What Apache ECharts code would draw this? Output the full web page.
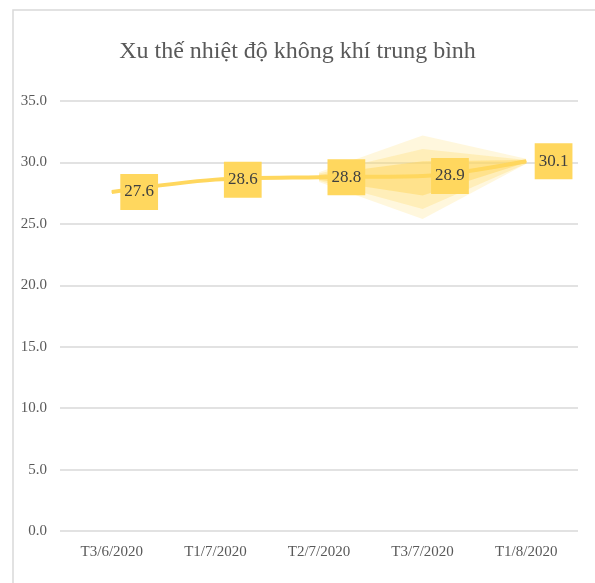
<html>
<head>
<meta charset="utf-8">
<script src="https://cdn.jsdelivr.net/npm/echarts@6/dist/echarts.min.js"></script>
<style>
  html, body { margin: 0; padding: 0; background: #fff; }
  #container { width: 595px; height: 583px; }
</style>
</head>
<body>
<div id="container"></div>
<script type="text/javascript">
var categories = ['T3/6/2020', 'T1/7/2020', 'T2/7/2020', 'T3/7/2020', 'T1/8/2020'];
var temps = [27.6, 28.6, 28.8, 28.9, 30.1];
// forecast band layers (lower bound and height), outer to inner
var bandLow = [
    [null, null, 28.4, 25.4, 29.9],
    [null, null, 28.5, 26.2, 29.9],
    [null, null, 28.6, 27.3, 30.0]
];
var bandHeight = [
    [null, null, 0.8, 6.8, 0.4],
    [null, null, 0.6, 4.9, 0.3],
    [null, null, 0.4, 2.8, 0.2]
];
var bandOpacity = [0.3, 0.4, 0.7];
var yTicks = { min: 0, max: 35, interval: 5 };

var dom = document.getElementById('container');
var myChart = echarts.init(dom, null, { renderer: 'canvas' });
var serif = '"Liberation Serif", "DejaVu Serif", serif';
var gold = '#FFD75E';

var series = [];
for (var i = 0; i < bandLow.length; i++) {
    series.push({
        type: 'line', stack: 'band' + i, data: bandLow[i],
        symbol: 'none', lineStyle: { opacity: 0 }, silent: true, z: 1
    });
    series.push({
        type: 'line', stack: 'band' + i, data: bandHeight[i],
        symbol: 'none', lineStyle: { opacity: 0 },
        areaStyle: { color: 'rgba(255, 215, 94, ' + bandOpacity[i] + ')' }, silent: true, z: 1
    });
}
series.push({
    name: 'temp',
    type: 'line',
    data: temps,
    smooth: 0.3,
    symbol: 'circle',
    symbolSize: 1,
    itemStyle: { color: gold },
    lineStyle: { color: gold, width: 4 },
    z: 3,
    label: {
        show: true,
        position: 'right',
        distance: 8,
        formatter: function (p) { return p.value.toFixed(1); },
        backgroundColor: gold,
        color: '#404040',
        fontFamily: serif,
        fontSize: 17,
        padding: [10, 4, 9, 4]
    }
});

var option = {
    animation: false,
    title: {
        text: 'Xu thế nhiệt độ không khí trung bình',
        left: 'center',
        top: 35,
        textStyle: { fontFamily: serif, fontSize: 24, fontWeight: 'normal', color: '#595959' }
    },
    graphic: [{
        type: 'rect',
        shape: { x: 13, y: 10, width: 620, height: 620 },
        style: { fill: 'none', stroke: '#D9D9D9', lineWidth: 1.5 }
    }],
    grid: { left: 60, right: 17, top: 101, bottom: 52 },
    xAxis: {
        type: 'category',
        data: categories,
        boundaryGap: true,
        axisLine: { show: false },
        axisTick: { show: false },
        axisLabel: { fontFamily: serif, fontSize: 15, color: '#595959', margin: 14 }
    },
    yAxis: {
        type: 'value',
        min: yTicks.min,
        max: yTicks.max,
        interval: yTicks.interval,
        axisLine: { show: false },
        axisTick: { show: false },
        splitLine: { lineStyle: { color: '#D9D9D9', width: 1.5 } },
        axisLabel: {
            fontFamily: serif, fontSize: 15, color: '#595959', margin: 13,
            formatter: function (v) { return v.toFixed(1); }
        }
    },
    series: series
};
myChart.setOption(option);
window.addEventListener('resize', myChart.resize);
</script>
</body>
</html>
